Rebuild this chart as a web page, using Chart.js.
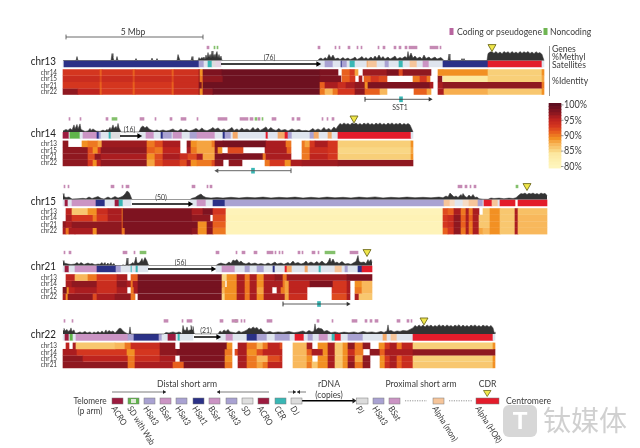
<!DOCTYPE html>
<html><head><meta charset="utf-8">
<style>html,body{margin:0;padding:0;background:#fff}canvas{display:block}</style>
<script src="https://cdn.jsdelivr.net/npm/chart.js@4/dist/chart.umd.min.js"></script>
</head><body><canvas id="c" width="640" height="448"></canvas>
<script>
// Run data: [end bin, value]; one bin = 36.5 kb, counted from the start of each chromosome.
const chromosomes = ['chr13','chr14','chr15','chr21','chr22'];
const chr13Compare = ['chr14','chr15','chr21','chr22'];
const chr14Compare = ['chr13','chr15','chr21','chr22'];
const chr15Compare = ['chr13','chr14','chr21','chr22'];
const chr21Compare = ['chr13','chr14','chr15','chr22'];
const chr22Compare = ['chr13','chr14','chr15','chr21'];

const chr13vs14 = [[37,93],[39,91],[70,93],[72,91],[109,93],[111,91],[136,93.5],[137,97],[140,89],[159,98],[257,99],[275,98],[279,null],[287,91],[292,93],[295,88],[300,null],[324,96.5],[336,98],[340,92],[368,97],[375,null],[380,89],[425,89],[479,85.5],[481,89]];
const chr13vs15 = [[37,94],[39,92],[70,94],[72,92],[109,94],[111,92],[136,94],[137,97],[140,90],[160,97],[257,99],[278,98],[279,null],[287,91],[292,93],[296,null],[299,96],[301,null],[308,91],[316,93],[324,92],[350,null],[357,90],[364,93],[367,90],[375,null],[379,97],[380,null],[425,84],[479,85.5],[481,88]];
const chr13vs21 = [[37,93],[39,91],[70,93],[72,91],[109,93],[111,91],[136,94],[139,98],[140,90],[257,99],[262,91],[275,96],[283,94],[292,96],[302,97],[305,89],[367,98],[370,96],[375,null],[380,96],[479,97],[481,90]];
const chr13vs22 = [[15,97],[37,95],[39,91],[70,93],[72,91],[109,93],[111,91],[136,94],[137,97],[140,89],[150,97],[257,99],[262,90],[270,87],[275,90],[292,93],[302,97],[317,91],[324,87],[351,null],[364,91],[368,88],[375,null],[381,96],[425,87.5],[479,86],[481,89]];

const chr14vs13 = [[5,97],[19,null],[25,89],[35,90],[39,88],[84,96.5],[92,90],[100,92],[117,96],[124,null],[128,97],[134,89],[149,88],[152,90],[160,98],[203,98.5],[223,96],[228,90],[239,null],[242,90],[247,88],[252,93],[265,96],[275,93],[348,85.5],[350,89]];
const chr14vs15 = [[25,97],[30,92],[35,89],[38,93],[84,97],[92,91],[100,90],[117,95],[124,null],[128,96],[134,90],[152,88],[155,97],[159,89],[165,null],[180,92],[202,null],[224,96],[228,91],[239,null],[247,90],[265,94],[275,93],[348,85],[350,88]];
const chr14vs21 = [[25,97],[32,92],[38,97],[84,96],[92,89],[100,92],[117,96],[125,94],[134,92],[140,96],[152,88],[160,98],[200,98],[203,90],[228,96],[239,null],[247,90],[265,95],[275,93],[348,85.5],[350,89]];
const chr14vs22 = [[25,97],[30,93],[34,89],[38,95],[84,97],[92,88],[100,92],[117,94],[124,92],[128,96],[134,89],[149,90],[152,92],[160,97],[166,null],[179,97],[202,null],[207,90],[222,93],[228,89],[239,96],[275,96.5],[350,97]];

const chr15vs13 = [[3,null],[9,95],[25,86],[34,89],[45,94],[59,96],[60,90],[129,98],[140,96],[150,98],[163,93],[380,80.5],[385,92],[391,91],[398,96],[403,90],[406,96],[410,90],[416,96],[420,null],[427,86],[437,89],[452,86],[455,96],[484,86.5]];
const chr15vs14 = [[3,null],[9,96],[30,93],[34,90],[45,93],[59,96],[60,90],[129,98],[147,97],[150,null],[163,92],[380,81],[385,93],[391,94],[398,97],[403,91],[406,96],[410,91],[416,96],[427,86],[437,89],[452,86],[455,96],[484,87]];
const chr15vs21 = [[3,97],[9,96],[59,97],[60,91],[135,98],[144,89],[150,97],[163,91],[380,80.5],[385,93],[391,94],[398,97],[403,91],[406,96],[410,90],[416,96],[420,86],[427,86],[437,89],[452,86],[455,96],[484,87]];
const chr15vs22 = [[3,96],[6,90],[12,96],[30,96],[34,89],[59,97],[62,90],[129,98],[135,97],[144,89],[150,97],[163,90],[380,80.5],[385,91],[391,93],[398,97],[403,90],[406,96],[410,90],[416,96],[420,88],[427,87],[437,89],[452,86],[455,96],[484,87]];

const chr21vs13 = [[3,null],[12,95],[25,87],[34,90],[54,93],[64,96],[68,null],[75,91],[159,98.5],[164,85],[174,89],[182,96],[187,90],[194,96],[201,89],[212,96],[220,97],[224,90],[284,96.5],[309,98]];
const chr21vs14 = [[3,null],[9,96],[34,97],[54,94],[64,97],[68,96],[70,90],[75,96],[159,98.5],[162,88],[164,null],[174,89],[182,96],[187,90],[194,96],[201,89],[212,96],[220,96],[222,90],[226,88],[247,95],[270,98],[284,93],[287,96],[292,null],[299,89],[309,87]];
const chr21vs15 = [[4,98],[6,89],[12,95],[34,96],[54,94],[64,96],[68,null],[71,90],[75,96],[159,98.5],[162,87],[174,89],[182,96],[187,90],[194,96],[201,88],[209,96],[214,null],[218,96],[222,90],[226,88],[244,95],[269,null],[284,93],[287,96],[292,null],[299,90],[309,87]];
const chr21vs22 = [[3,96],[5,89],[30,97],[34,92],[52,96],[68,97],[72,90],[75,null],[159,98.5],[162,85],[174,89],[182,96],[187,90],[194,96],[201,89],[222,96],[226,88],[244,94],[269,null],[284,92],[287,96],[292,null],[296,96],[309,86]];

const chr22vs13 = [[3,null],[6,95],[10,null],[13,96],[52,86],[62,87],[68,90],[97,94],[112,97],[117,null],[164,98],[169,89],[175,null],[184,96],[194,90],[200,87],[205,90],[217,95],[219,92],[230,null],[244,87],[249,96],[255,null],[265,89],[272,96],[280,86],[285,89],[292,97],[300,90],[307,97],[316,null],[322,89],[327,93],[334,96],[339,90],[350,95],[430,85.5],[432,89]];
const chr22vs14 = [[14,96],[64,93],[72,89],[97,93],[114,97],[162,98],[169,90],[172,null],[175,92],[184,96],[194,89],[200,92],[219,95],[230,null],[244,87],[249,91],[260,96],[265,89],[272,96],[280,86],[285,89],[292,94],[300,90],[307,null],[317,97],[322,91],[350,96],[432,97]];
const chr22vs15 = [[20,97],[65,95],[72,90],[97,94],[112,96],[117,null],[162,98],[169,89],[175,null],[184,96],[194,90],[205,87],[217,92],[219,94],[230,null],[244,87],[249,89],[255,null],[265,89],[272,96],[280,86],[285,89],[292,96],[300,88],[307,97],[317,null],[322,89],[327,93],[334,96],[339,91],[350,94],[430,85.5],[432,89]];
const chr22vs21 = [[65,97],[72,90],[110,96],[121,91],[162,98],[169,90],[175,null],[184,96],[194,90],[200,88],[205,90],[219,95],[230,null],[244,87],[249,90],[255,86],[265,89],[272,96],[280,86],[285,89],[292,97],[300,90],[307,97],[317,null],[322,89],[327,94],[334,96],[339,91],[350,94],[430,86],[432,89]];

const chr13Satellites = [[1,'BG'],[136,'HS1'],[141,'HS3'],[145,'BG'],[149,'CER'],[153,'SD'],[158,'PALEBS'],[255,null],[262,'BG'],[270,'HS3'],[278,'BG'],[279,'HS1'],[284,'HS3'],[287,'BG'],[292,'CER'],[304,'BG'],[305,'MON'],[314,'PEACH'],[322,'BG'],[326,'HS3'],[336,'BG'],[340,'CER'],[347,'BG'],[354,'PEACH'],[360,'BG'],[366,'BS'],[380,'BG'],[425,'HS1'],[479,'HOR'],[481,'BG']];
const chr14Satellites = [[6,'ACRO'],[7,'BG'],[17,'WAB'],[20,'BG'],[34,'BS'],[36,'HS1'],[38,'HS3'],[46,'BG'],[48,'CER'],[57,'SD'],[76,null],[83,'BG'],[91,'BS'],[98,'BG'],[100,'HS1'],[109,'HS3'],[110,'BG'],[119,'BS'],[127,'BG'],[134,'HS3'],[152,'BS'],[160,'BG'],[162,'HS1'],[168,'HS3'],[170,'BG'],[175,'MON'],[203,'BG'],[205,'HOR'],[215,'BG'],[222,'MON'],[225,'HOR'],[229,'HS3'],[247,'BG'],[251,'HS3'],[256,'MON'],[265,'BG'],[269,'MON'],[275,'BG'],[348,'HOR'],[350,'BG']];
const chr15Satellites = [[2,'BG'],[5,'ACRO'],[9,'BG'],[33,'BS'],[42,'HS1'],[52,'BG'],[56,'ACRO'],[60,'CER'],[68,'BG'],[127,null],[134,'BG'],[143,'BS'],[150,'BG'],[162,'HS1'],[381,'HS3'],[387,'PEACH'],[392,'PALEPEACH'],[400,'BG'],[406,'PALEPEACH'],[415,'PEACH'],[420,'HS3'],[421,'BG'],[429,'HOR'],[435,'PEACH'],[437,'BG'],[452,'HOR'],[455,null],[484,'HOR']];
const chr21Satellites = [[2,'BG'],[6,'ACRO'],[12,'BG'],[34,'BS'],[53,'HS1'],[58,'HS3'],[68,'BG'],[69,'CER'],[73,'BG'],[75,'CER'],[85,'BG'],[153,null],[159,'BG'],[172,'BS'],[182,'BG'],[187,'HS3'],[194,'BG'],[201,'HS3'],[210,'BG'],[212,'HS1'],[222,'BG'],[224,'HOR'],[229,'MON'],[242,'BG'],[245,'MON'],[256,'BG'],[258,'CER'],[272,'BG'],[279,'PEACH'],[282,'BG'],[285,'HS3'],[295,'BG'],[299,'HS1'],[309,'HOR']];
const chr22Satellites = [[2,'BG'],[6,'ACRO'],[7,'BG'],[10,'WAB'],[13,'BG'],[65,'BS'],[71,'HS3'],[96,'HS1'],[99,'HS3'],[105,'BG'],[113,'ACRO'],[115,'BG'],[117,'CER'],[130,'BG'],[155,null],[163,'BG'],[170,'BS'],[184,'BG'],[194,'HS1'],[204,'HS3'],[212,'BG'],[227,'HS3'],[232,'BG'],[241,'HOR'],[245,'BG'],[250,'HS3'],[256,'BG'],[265,'BS'],[269,'BG'],[272,'CER'],[278,'HOR'],[285,'BG'],[300,'HS3'],[320,'BG'],[324,'MON'],[328,'BG'],[334,'PEACH'],[350,'BG'],[430,'HOR'],[432,'BG']];

// Methylation samples: [bin, percent]
const chr13Methyl = [[0,0],[13,0],[14,40],[15,0],[48,0],[49,70],[50,30],[51,0],[53,0],[54,40],[55,0],[72,0],[73,20],[74,0],[88,0],[89,25],[90,0],[93,0],[94,20],[95,0],[114,0],[115,60],[116,30],[117,0],[128,0],[129,40],[130,0],[135,0],[136,30],[137,12],[139,30],[140,15],[141,35],[142,10],[143,55],[144,20],[145,80],[146,30],[147,60],[148,20],[149,95],[150,30],[151,60],[152,25],[153,65],[154,90],[155,25],[156,60],[157,20],[158,45],[159,0],[255,0],[256,15],[258,25],[260,10],[262,30],[264,15],[266,60],[268,25],[270,55],[272,15],[275,25],[277,10],[280,30],[282,12],[285,25],[287,10],[290,20],[292,35],[294,10],[297,25],[299,40],[301,15],[303,30],[305,12],[308,35],[310,15],[312,45],[314,20],[316,55],[318,20],[320,40],[322,15],[325,35],[327,15],[330,30],[332,45],[334,15],[337,30],[339,20],[342,40],[344,25],[345,90],[346,30],[348,75],[350,25],[352,45],[354,20],[357,35],[359,15],[361,55],[363,20],[366,35],[368,15],[372,35],[374,15],[378,30],[380,10],[381,0],[385,0],[386,65],[387,0],[398,0],[399,20],[400,0],[401,20],[402,0],[424,0],[425,70],[427,85],[429,88],[431,72],[433,90],[435,70],[437,85],[439,68],[441,90],[443,75],[445,88],[447,70],[449,90],[451,72],[453,85],[455,70],[457,90],[459,72],[461,88],[463,75],[465,90],[467,70],[469,85],[471,68],[473,88],[475,72],[477,80],[479,60],[480,30],[481,0]];
const chr14Methyl = [[0,10],[3,25],[5,15],[7,35],[9,20],[11,70],[12,30],[14,75],[15,30],[17,80],[18,25],[20,15],[22,5],[25,10],[27,35],[28,15],[30,30],[33,8],[37,5],[40,18],[42,8],[44,25],[45,12],[47,45],[48,20],[50,70],[51,35],[53,55],[54,30],[55,85],[56,40],[57,20],[58,0],[76,0],[78,45],[80,60],[82,40],[84,55],[86,30],[88,20],[91,10],[94,20],[96,8],[100,20],[103,10],[106,15],[110,30],[112,15],[115,10],[118,30],[120,12],[123,25],[126,8],[130,20],[133,35],[136,15],[139,40],[141,20],[144,12],[148,30],[150,45],[152,25],[155,40],[158,15],[161,30],[163,12],[166,25],[169,45],[171,15],[174,30],[176,15],[179,40],[181,20],[184,30],[187,15],[190,45],[192,20],[195,40],[197,15],[200,30],[203,50],[205,20],[208,45],[210,25],[213,15],[216,35],[218,15],[222,25],[225,10],[229,30],[232,15],[236,25],[239,12],[243,15],[246,8],[250,35],[252,15],[255,30],[258,15],[261,45],[263,20],[266,35],[268,15],[271,50],[273,30],[275,60],[277,85],[279,72],[281,90],[283,75],[285,85],[287,70],[289,90],[291,78],[293,88],[295,72],[297,85],[299,70],[301,88],[303,75],[305,90],[307,72],[309,85],[311,70],[313,88],[315,74],[317,90],[319,72],[321,85],[323,70],[325,88],[327,75],[329,90],[331,72],[333,85],[335,75],[337,88],[339,70],[341,85],[343,72],[345,85],[347,70],[349,25],[350,0]];
const chr15Methyl = [[0,60],[1,30],[3,20],[6,25],[9,5],[15,8],[20,12],[23,8],[26,25],[29,10],[35,30],[38,12],[41,5],[45,25],[48,10],[52,30],[55,15],[58,25],[60,35],[62,55],[64,85],[66,70],[67,50],[68,25],[69,0],[127,0],[129,12],[132,20],[135,40],[138,55],[140,35],[143,20],[148,15],[154,20],[160,15],[168,22],[176,15],[184,22],[192,17],[200,24],[208,16],[216,22],[224,17],[232,24],[240,15],[248,22],[256,16],[264,24],[272,17],[280,22],[288,16],[296,24],[304,18],[312,26],[320,16],[328,22],[336,17],[344,24],[352,18],[360,22],[368,17],[376,24],[380,18],[383,35],[385,25],[387,65],[389,45],[391,25],[393,35],[395,20],[398,50],[399,30],[400,60],[402,30],[404,20],[406,45],[408,25],[410,50],[412,20],[414,25],[416,8],[420,3],[425,2],[428,15],[431,10],[436,14],[441,8],[446,14],[450,10],[453,18],[456,45],[458,60],[460,55],[462,65],[464,50],[466,62],[468,55],[470,65],[472,52],[474,60],[476,50],[478,65],[480,55],[482,62],[484,40]];
const chr21Methyl = [[0,50],[1,25],[3,20],[5,15],[8,10],[12,15],[14,30],[16,12],[18,30],[21,10],[25,25],[27,15],[29,20],[32,8],[35,15],[37,12],[39,30],[40,10],[42,30],[43,5],[45,25],[46,5],[48,30],[49,5],[51,20],[52,0],[59,0],[60,10],[61,0],[63,5],[64,75],[65,5],[68,15],[70,30],[71,15],[73,85],[74,25],[76,25],[78,50],[79,70],[80,35],[82,80],[84,45],[85,15],[86,0],[153,0],[155,15],[158,25],[160,18],[163,12],[166,35],[168,20],[170,55],[172,45],[174,60],[176,30],[178,45],[180,25],[183,15],[186,30],[188,15],[192,25],[195,12],[198,20],[202,10],[205,25],[208,12],[212,35],[214,15],[218,25],[221,12],[225,30],[227,15],[230,45],[232,20],[235,30],[238,15],[241,25],[243,45],[245,20],[248,35],[251,20],[254,40],[256,20],[259,45],[261,25],[263,15],[265,35],[267,75],[268,30],[270,65],[272,25],[274,35],[276,20],[279,40],[282,15],[285,20],[288,12],[291,30],[293,40],[295,100],[296,40],[298,30],[301,35],[303,20],[305,60],[306,35],[307,50],[308,60],[309,30]];
const chr22Methyl = [[0,35],[1,55],[2,30],[4,45],[5,25],[7,35],[8,60],[9,25],[11,40],[12,10],[14,8],[17,20],[19,10],[22,25],[24,10],[27,20],[29,5],[31,20],[33,8],[35,25],[37,10],[39,30],[41,10],[43,40],[44,15],[46,35],[48,20],[50,30],[52,10],[54,30],[56,55],[58,55],[60,30],[62,15],[64,5],[65,0],[66,0],[67,70],[68,0],[101,0],[103,15],[106,10],[110,20],[113,10],[116,20],[118,12],[119,0],[120,85],[121,40],[123,35],[124,70],[125,30],[127,40],[128,85],[129,40],[130,75],[131,10],[132,0],[155,0],[157,30],[159,15],[161,40],[163,25],[165,45],[167,20],[170,15],[173,10],[176,30],[178,15],[181,25],[184,40],[186,60],[188,50],[190,70],[192,55],[194,65],[196,40],[198,55],[200,25],[203,15],[207,25],[210,12],[215,20],[220,15],[226,25],[231,12],[236,20],[240,30],[243,15],[246,35],[249,20],[251,30],[252,100],[253,40],[255,60],[257,55],[259,50],[261,25],[264,35],[268,12],[272,20],[276,10],[281,18],[286,12],[291,20],[295,10],[300,25],[304,15],[309,20],[313,12],[318,25],[321,15],[324,30],[325,90],[326,30],[328,35],[331,20],[334,30],[337,25],[340,35],[344,30],[347,45],[350,60],[352,85],[354,70],[356,90],[358,72],[360,88],[362,70],[364,90],[366,75],[368,88],[370,70],[372,85],[374,72],[376,92],[378,75],[380,88],[382,72],[384,90],[386,74],[388,85],[390,70],[392,88],[394,75],[396,92],[398,70],[400,88],[402,72],[404,85],[406,70],[408,88],[410,75],[412,90],[414,72],[416,85],[418,70],[420,88],[422,75],[424,85],[426,70],[428,85],[430,60],[431,20],[432,0]];

const chr13Coding = [[144,146],[255,257],[272,273],[276,277],[285,287],[294,295],[298,299],[315,316],[320,322],[331,333],[336,338],[342,344],[346,354],[367,375],[377,378]];
const chr13Noncoding = [[151,152],[154,155]];
const chr14Coding = [[6,7],[17,18],[43,45],[77,81],[92,93],[107,109],[118,123],[134,135],[155,164],[177,185],[187,190],[195,197],[209,213],[229,231],[234,237],[259,260],[264,265],[269,271]];
const chr14Noncoding = [[49,54],[192,194],[199,200]];
const chr15Coding = [[1,2],[5,6],[48,51],[59,60],[63,66],[129,132],[144,145],[147,149],[395,399],[402,404],[407,408],[411,413]];
const chr15Noncoding = [[453,455]];
const chr21Coding = [[1,2],[6,8],[60,64],[71,72],[153,156],[173,174],[179,182],[191,194],[204,210],[212,213],[216,217],[219,220],[235,237],[239,240],[249,252],[255,256],[287,295]];
const chr21Noncoding = [[77,83],[262,272]];
const chr22Coding = [[1,2],[9,10],[101,105],[119,120],[124,129],[157,160],[169,175],[178,179],[181,182],[204,209],[254,256],[269,270],[289,294],[302,304],[307,309],[312,315],[334,337],[344,346],[348,349]];
const chr22Noncoding = [[172,174]];

const rdnaCopies = ['(76)','(16)','(50)','(56)','(21)'];
const rdnaSpans = [[158,255],[57,76],[69,127],[85,150],[131,155]];
const cdrCentres = [429,291,464,304,361];
const sstSpans = [[302,367],[154,228],null,[220,285],null];
const sstCentres = [338,190,null,256,null];
const identityTicks = [100,95,90,85,80];
const identitySteps = [100,99,98,97,96,95,94,93,92,91,90,89,88,87,86,85,84,83,82,81,80];
const distalBoxes = ['ACRO','SD with Wab','HSat3','BSat','HSat3','HSat1','BSat','HSat3','SD','ACRO','CER','DJ'];
const proximalBoxes = ['PJ','HSat3','BSat','Alpha (mon)','Alpha (HOR)'];

/* ---------- styles and layout ---------- */
const FONT = 'Lato,Roboto,sans-serif';
const INK = '#3b3b3b';
const SQUEEZE = 0.86;
const SAT = {BG:'#dfe5ee',ACRO:'#9c1b3f',WAB:'#5fb44a',HS3:'#a9a2d2',BS:'#cb94c4',HS1:'#2b3187',SD:'#dcdcde',CER:'#39b7b5',MON:'#f4a968',PEACH:'#f6c59a',PALEPEACH:'#f7dcc4',PALEBS:'#e3d3e4',HOR:'#e31c2b'};
const BOXCOL = {'ACRO':SAT.ACRO,'SD with Wab':SAT.WAB,'HSat3':SAT.HS3,'BSat':SAT.BS,'HSat1':SAT.HS1,'SD':'#dedede','CER':SAT.CER,'DJ':'#dcdcdc','PJ':'#dcdcdc','Alpha (mon)':SAT.PEACH,'Alpha (HOR)':SAT.HOR};
const STOPS = [[80,[254,245,188]],[84,[252,232,160]],[85.5,[248,207,120]],[87,[248,184,92]],[89,[242,144,35]],[91,[232,96,30]],[93,[212,54,31]],[95,[190,36,31]],[96,[170,29,32]],[97,[143,24,32]],[98,[126,19,32]],[100,[94,15,32]]];
function heat(p){
  for(let i=1;i<STOPS.length;i++){ if(p<=STOPS[i][0]){
    const a=STOPS[i-1],b=STOPS[i],t=(p-a[0])/(b[0]-a[0]);
    return 'rgb('+a[1].map((v,k)=>Math.round(v+(b[1][k]-v)*t)).join(',')+')';
  }}
  return 'rgb(94,15,32)';
}
const BIN = 1/27.4;            // Mbp per bin
const ORIGIN_PX = 63;
const TOP = {chr13:69.3,chr14:140.7,chr15:208.3,chr21:274.3,chr22:342.7};
const PITCH = {chr13:6.35,chr14:6.35,chr15:6.5,chr21:6.4,chr22:6.35};
const OFF = {genes:-21.8,methyl:-8.8,sat:-5.4};
const TITLE = {chr13:63,chr14:135,chr15:203,chr21:268,chr22:336};
const SPAN_Y = {chr13:99.3,chr14:170.7,chr21:304};

const rowsByChr = {chr13:[chr13vs14,chr13vs15,chr13vs21,chr13vs22],chr14:[chr14vs13,chr14vs15,chr14vs21,chr14vs22],chr15:[chr15vs13,chr15vs14,chr15vs21,chr15vs22],chr21:[chr21vs13,chr21vs14,chr21vs15,chr21vs22],chr22:[chr22vs13,chr22vs14,chr22vs15,chr22vs21]};
const compareByChr = {chr13:chr13Compare,chr14:chr14Compare,chr15:chr15Compare,chr21:chr21Compare,chr22:chr22Compare};
const satsByChr = {chr13:chr13Satellites,chr14:chr14Satellites,chr15:chr15Satellites,chr21:chr21Satellites,chr22:chr22Satellites};
const methylByChr = {chr13:chr13Methyl,chr14:chr14Methyl,chr15:chr15Methyl,chr21:chr21Methyl,chr22:chr22Methyl};
const codingByChr = {chr13:chr13Coding,chr14:chr14Coding,chr15:chr15Coding,chr21:chr21Coding,chr22:chr22Coding};
const noncodingByChr = {chr13:chr13Noncoding,chr14:chr14Noncoding,chr15:chr15Noncoding,chr21:chr21Noncoding,chr22:chr22Noncoding};

function runBars(runs,y,colour){
  const data=[],bg=[]; let s=0;
  runs.forEach(([e,v])=>{ if(v!==null){ data.push({x:[s*BIN,e*BIN],y}); bg.push(colour(v)); } s=e; });
  return {data,bg};
}
const datasets=[];
function barSet(data,bg,th){ datasets.push({type:'bar',indexAxis:'y',grouped:false,data,backgroundColor:bg,barThickness:th,borderWidth:0,borderSkipped:false,order:5}); }
function arrow(x0,x1,y,colour,w,head,tail,dir){
  datasets.push({type:'line',data:[{x:x0*BIN,y},{x:x1*BIN,y}],borderColor:colour,backgroundColor:colour,borderWidth:w,
    pointStyle:dir>0?['line','triangle']:['triangle','line'],pointRadius:dir>0?[tail,head]:[head,tail],
    pointRotation:dir>0?[90,90]:[-90,90],pointBorderWidth:dir>0?[1,0]:[0,1],pointBorderColor:colour,pointBackgroundColor:colour,
    fill:false,order:2});
}
chromosomes.forEach((name,ci)=>{
  const top=TOP[name],pitch=PITCH[name];
  rowsByChr[name].forEach((runs,r)=>{
    const b=runBars(runs,top+pitch*(r+.5),heat);
    barSet(b.data,b.bg,pitch-0.45);
  });
  const s=runBars(satsByChr[name],top+OFF.sat,k=>SAT[k]);
  barSet(s.data,s.bg,6);
  const gy=top+OFF.genes;
  barSet(codingByChr[name].map(g=>({x:[g[0]*BIN,g[1]*BIN],y:gy})),'#c58ab4',2.7);
  barSet(noncodingByChr[name].map(g=>({x:[g[0]*BIN,g[1]*BIN],y:gy})),'#84c06c',2.7);
  const base=top+OFF.methyl;
  const pts=methylByChr[name].map(([b,v])=>({x:b*BIN,y:base-v*0.1}));
  datasets.push({type:'line',data:pts,borderWidth:0.5,pointRadius:0,fill:{value:base},backgroundColor:'#333',borderColor:'#333',order:4});
  const [a,b2]=rdnaSpans[ci];
  arrow(a,b2,TITLE[name]+1,'#000',1.5,3.2,0,1);
  datasets.push({type:'scatter',data:[{x:cdrCentres[ci]*BIN,y:gy-0.6}],pointStyle:'triangle',pointRotation:180,pointRadius:4.6,pointBackgroundColor:'#f0e64a',pointBorderColor:'#6f6b1d',pointBorderWidth:0.9,order:1});
  if(sstSpans[ci]){
    const dir=name==='chr14'?-1:1;
    arrow(sstSpans[ci][0],sstSpans[ci][1],SPAN_Y[name],dir>0?'#333':'#555',dir>0?.8:.9,2.6,2.4,dir);
    barSet([{x:[(sstCentres[ci]-1.5)*BIN,(sstCentres[ci]+1.5)*BIN],y:SPAN_Y[name]}],'#39b7b5',5);
  }
});
// 5 Mbp scale bar
datasets.push({type:'line',data:[{x:3/27.4,y:37},{x:3/27.4+5,y:37}],borderColor:'#444',borderWidth:.8,pointStyle:'line',pointRotation:90,pointRadius:2.4,pointBorderColor:'#444',pointBorderWidth:.8,fill:false,order:2});
// identity colour bar
const barPx={l:549,r:561};
barSet(identitySteps.map(p=>({x:[(barPx.l-ORIGIN_PX)*BIN,(barPx.r-ORIGIN_PX)*BIN],y:166.5-(p-80)*3.08})),identitySteps.map(heat),3.2);

/* ---------- text and schematic key ---------- */
function tx(c,s,x,y,size,al,col,sq){
  c.save();c.translate(x,y);c.scale(sq||SQUEEZE,1);
  c.font=size+'px '+FONT;c.textAlign=al||'left';c.textBaseline='middle';c.fillStyle=col||INK;c.fillText(s,0,0);c.restore();
}
const annotate={id:'annotate',afterDatasetsDraw(ch){
  const c=ch.ctx; c.save();
  tx(c,'5 Mbp',133,31.5,10,'center');
  c.fillStyle='#b8659f';c.fillRect(449.5,28,4,7);
  tx(c,'Coding or pseudogene',457,32,10);
  c.fillStyle='#6fb552';c.fillRect(543.5,28,4,7);
  tx(c,'Noncoding',550,32,10);
  c.strokeStyle='#777';c.lineWidth=.8;c.beginPath();c.moveTo(549.5,46);c.lineTo(549.5,96);c.stroke();
  tx(c,'Genes',552,49,10);tx(c,'%Methyl',552,57,10);tx(c,'Satellites',552,65,10);tx(c,'%Identity',552,81,10);
  identityTicks.forEach(p=>{const y=ch.scales.y.getPixelForValue(166.5-(p-80)*3.08);
    c.strokeStyle='#555';c.lineWidth=.6;c.beginPath();c.moveTo(561,y);c.lineTo(563.5,y);c.stroke();
    tx(c,p+'%',564,y,10.5);});
  tx(c,'SST1',400,107,8,'center');
  chromosomes.forEach((n,i)=>{
    tx(c,n,56,TITLE[n]-1.5,12,'right','#222',.82);
    compareByChr[n].forEach((m,r)=>tx(c,m,57,TOP[n]+PITCH[n]*(r+.5),7.4,'right'));
    const a=rdnaSpans[i];
    tx(c,rdnaCopies[i],ch.scales.x.getPixelForValue((a[0]+a[1])/2*BIN),TITLE[n]-6,8,'center');
  });
  // bottom key
  tx(c,'Distal short arm',187,384,10,'center');
  tx(c,'Telomere',90,401,9.6,'center');tx(c,'(p arm)',90,411,9.6,'center');
  tx(c,'rDNA',329,384,10,'center');tx(c,'(copies)',329,395,9.8,'center');
  tx(c,'Proximal short arm',421,384,10,'center');
  tx(c,'CDR',487.5,384,10,'center');
  tx(c,'Centromere',506,401,10);
  const hline=(x0,x1,y,col,w)=>{c.strokeStyle=col;c.lineWidth=w;c.beginPath();c.moveTo(x0,y);c.lineTo(x1,y);c.stroke();};
  const head=(x,y,d,s)=>{c.fillStyle='#222';c.beginPath();c.moveTo(x,y);c.lineTo(x-d*s,y-s*.7);c.lineTo(x-d*s,y+s*.7);c.fill();};
  hline(112,166,392,'#444',.7);head(166,392,1,3);
  hline(217,269,392,'#444',.7);head(217,392,-1,3);
  hline(288,296,392,'#444',.7);head(296,392,1,3);hline(297,306,392,'#444',.7);head(297,392,-1,3);
  hline(302,353,400.8,'#000',1.4);head(356.5,400.8,1,4);
  const drawBox=(name,x,w)=>{c.fillStyle=BOXCOL[name];c.fillRect(x,398,w,6);c.strokeStyle='#7a7a7a';c.lineWidth=.5;c.strokeRect(x,398,w,6);
    if(name==='SD with Wab'){c.fillStyle='#dfe8d8';c.fillRect(x+3,399,w-6,4);}
    c.save();c.translate(x+1.5,407);c.rotate(58*Math.PI/180);tx(c,name,0,0,8.8,'left');c.restore();};
  const distalX=[112,128,144,160,176,193,209,226,242,258,275,291];
  distalBoxes.forEach((n,i)=>drawBox(n,distalX[i],11));
  const proxX=[356.5,373,389,433,476],proxW=[11.5,11,11,11,23];
  proximalBoxes.forEach((n,i)=>drawBox(n,proxX[i],proxW[i]));
  c.save();c.setLineDash([1.2,1.2]);hline(405,427,400.8,'#666',.7);hline(449,472,400.8,'#666',.7);c.restore();
  c.fillStyle='#f0e64a';c.strokeStyle='#6f6b1d';c.lineWidth=.8;c.beginPath();c.moveTo(483.5,390.5);c.lineTo(491,390.5);c.lineTo(487.2,396.5);c.closePath();c.fill();c.stroke();
  // media mark in the corner of the reference
  c.fillStyle='rgba(206,206,206,.82)';c.beginPath();c.roundRect(503,405,34,32,6);c.fill();
  c.fillStyle='#fff';c.font='bold 24px "Liberation Sans",sans-serif';c.textAlign='center';c.textBaseline='middle';c.fillText('T',520,422);
  c.font='28px "Noto Sans CJK SC"';c.fillStyle='rgba(200,200,200,.85)';c.textAlign='left';c.fillText('钛媒体',543,420);
  c.restore();
}};

new Chart(document.getElementById('c'),{
  type:'line',
  data:{datasets},
  plugins:[annotate],
  options:{responsive:false,animation:false,events:[],
    layout:{padding:0,autoPadding:false},
    plugins:{legend:{display:false},tooltip:{enabled:false}},
    scales:{
      x:{type:'linear',display:false,offset:false,min:-ORIGIN_PX*BIN,max:(640-ORIGIN_PX)*BIN},
      y:{type:'linear',display:false,offset:false,reverse:true,min:0,max:448}
    }}
});
</script></body></html>
